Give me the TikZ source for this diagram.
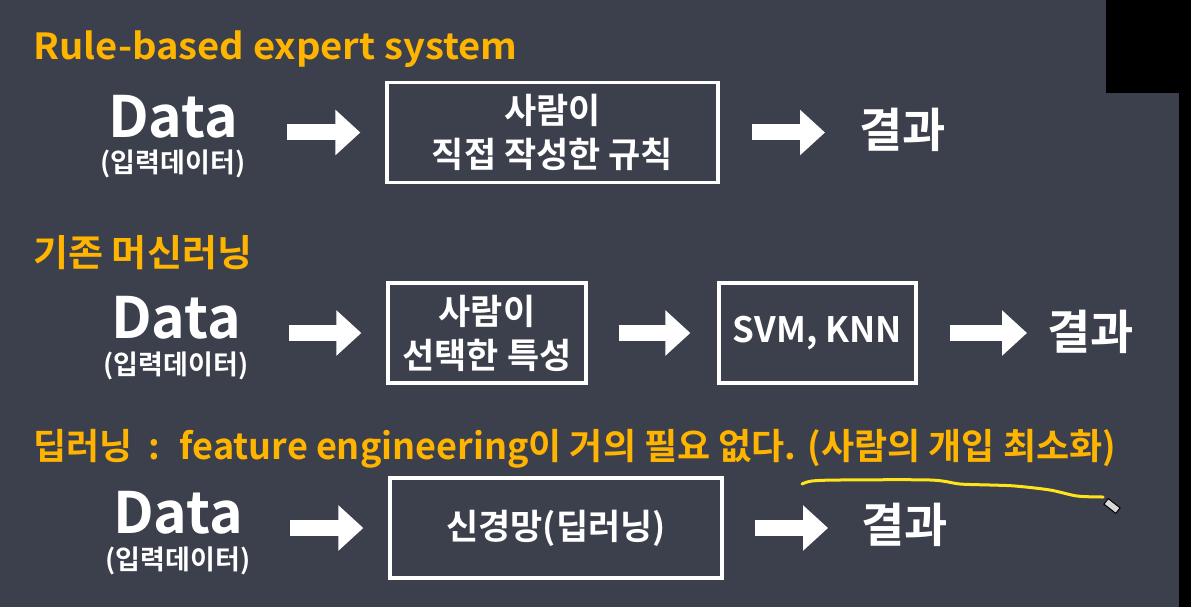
\documentclass[tikz,border=0pt]{standalone}
\usepackage{fontspec}
\setmainfont{Noto Sans CJK KR}
\newfontfamily\krb{Noto Sans CJK KR}[UprightFont={* Bold}]
\newfontfamily\krttl{Noto Sans CJK KR}[UprightFont={* Bold}, FakeStretch=1.06]
\newfontfamily\krttlk{Noto Sans CJK KR}[UprightFont={* Bold}, FakeStretch=1.03]
\usetikzlibrary{arrows.meta}
\definecolor{bg}{HTML}{3C404C}
\definecolor{ttl}{HTML}{FFB500}
\definecolor{penline}{HTML}{FFE41C}
\tikzset{
  title/.style={anchor=base west, text=ttl, font=\krttl\fontsize{36}{40}\selectfont, inner sep=0},
  data/.style={text=white, font=\krb\fontsize{57}{60}\selectfont, inner sep=0, minimum width=126pt},
  sub/.style={text=white, font=\krb\fontsize{27}{30}\selectfont, inner sep=0},
  box/.style={draw=white, line width=3.3pt, text=white, font=\krb\fontsize{35}{44}\selectfont, align=center, inner sep=0, minimum height=100pt},
  res/.style={text=white, font=\krb\fontsize{47}{48}\selectfont, anchor=west, inner sep=0},
  bigarrow/.style={draw=white, line width=16pt, -{Triangle[length=25pt,width=44pt]}},
}
\begin{document}
\begin{tikzpicture}[x=1pt,y=-1pt]
\useasboundingbox (0,0) rectangle (1191,607);
\fill[bg] (0,0) rectangle (1179,607);
\fill[black] (1179,0) rectangle (1191,607);
\fill[black] (1106,0) rectangle (1191,93);

% Row 1
\node[title] (t1) at (33,60) {Rule-based expert system};
\node[data] (d1) at (173,117) {Data};
\node[sub] (s1) at (173,164) {(입력데이터)};
\node[box, minimum width=331pt] (b1) at (552.5,132.5) {사람이\\직접 작성한 규칙};
\node[res] (r1) at (859,130) {결과};
\draw[bigarrow, shorten <=49pt, shorten >=25pt] (d1.east |- b1.west) -- (b1.west);
\draw[bigarrow, shorten <=32pt, shorten >=34pt] (b1.east) -- (r1.west |- b1.east);

% Row 2
\node[title, font=\krttlk\fontsize{37}{40}\selectfont] (t2) at (33,266) {기존 머신러닝};
\node[data] (d2) at (176,318) {Data};
\node[sub] (s2) at (176,366) {(입력데이터)};
\node[box, minimum width=198pt] (b2) at (487,333) {사람이\\선택한 특성};
\node[box, minimum width=197pt, font=\krb\fontsize{35}{40}\selectfont] (b3) at (817.5,333) {SVM, KNN};
\node[res] (r2) at (1047,332) {결과};
\draw[bigarrow, shorten <=48pt, shorten >=25pt] (d2.east |- b2.west) -- (b2.west);
\draw[bigarrow, shorten <=31pt, shorten >=27pt] (b2.east) -- (b3.west);
\draw[bigarrow, shorten <=32pt, shorten >=20pt] (b3.east) -- (r2.west |- b3.east);

% Row 3
\node[title, font=\krb\fontsize{36}{40}\selectfont] (t3) at (33,459) {딥러닝 \ : \ feature engineering이 거의 필요 없다. (사람의 개입 최소화)};
\node[data] (d3) at (178,513) {Data};
\node[sub] (s3) at (178,561) {(입력데이터)};
\node[box, minimum width=332pt] (b4) at (556,528) {신경망(딥러닝)};
\node[res] (r3) at (861,525) {결과};
\draw[bigarrow, shorten <=47pt, shorten >=25pt] (d3.east |- b4.west) -- (b4.west);
\draw[bigarrow, shorten <=31pt, shorten >=33pt] (b4.east) -- (r3.west |- b4.east);

% hand-drawn underline and pen cursor
\draw[penline, line width=3pt, line cap=round, line join=round]
  plot[smooth, tension=0.5] coordinates {(802,484) (812,481) (840,480) (930,480) (960,484) (990,485) (1015,486) (1050,490) (1077,496) (1103,497)};
\node[draw=black, line width=1pt, fill=gray!30, minimum width=15pt, minimum height=7pt, inner sep=0, rotate=-38] (pen) at (1112,506) {};
\end{tikzpicture}
\end{document}
